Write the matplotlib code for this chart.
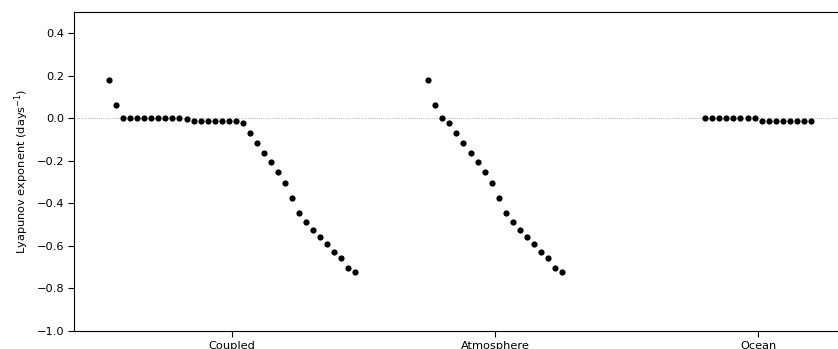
import numpy as np
import matplotlib
matplotlib.use("Agg")
import matplotlib.pyplot as plt

categories = ["Coupled", "Atmosphere", "Ocean"]

coupled = [0.179, 0.062, 0.0, 0.0, 0.0, 0.0, 0.0, 0.0, 0.0, 0.0, 0.0, -0.004,
           -0.012, -0.012, -0.012, -0.012, -0.012, -0.012, -0.012, -0.024,
           -0.071, -0.118, -0.165, -0.208, -0.254, -0.305, -0.377, -0.444,
           -0.489, -0.525, -0.558, -0.589, -0.631, -0.658, -0.702, -0.722]

atmosphere = [0.179, 0.062, 0.0, -0.021, -0.071, -0.118, -0.165, -0.208,
              -0.254, -0.305, -0.377, -0.444, -0.489, -0.525, -0.558, -0.589,
              -0.631, -0.658, -0.702, -0.722]

ocean = [0.0, 0.0, 0.0, 0.0, 0.0, 0.0, 0.0, 0.0,
         -0.012, -0.012, -0.012, -0.012, -0.012, -0.012, -0.012, -0.012]

series = [coupled, atmosphere, ocean]
yticks = [-1.0, -0.8, -0.6, -0.4, -0.2, 0.0, 0.2, 0.4]

plt.rcParams["font.family"] = ["DejaVu Sans"]
plt.rcParams["font.size"] = 8.2

W, H = 838, 349
fig = plt.figure(figsize=(W / 100, H / 100), dpi=100)
left, right, top, bottom = 74.3, 915.8, 11.7, 331.0
ax = fig.add_axes([left / W, 1 - bottom / H, (right - left) / W, (bottom - top) / H])

step = 1 / 37.5
for i, vals in enumerate(series):
    n = len(vals)
    xs = i + (np.arange(n) - (n - 1) / 2) * step
    ax.scatter(xs, vals, s=20, color="black", linewidths=0, zorder=3)

ax.axhline(0, color="#bbbbbb", lw=0.8, ls=(0, (1, 1)), zorder=1)
ax.set_xlim(-0.6, 2.6)
ax.set_ylim(-1.0, 0.5)
ax.set_xticks(range(len(categories)))
ax.set_xticklabels(categories)
ax.set_yticks(yticks)
ax.set_yticklabels([f"{v:.1f}".replace("-", "\u2212") for v in yticks])
ax.set_ylabel("Lyapunov exponent (days$^{-1}$)", labelpad=4)
ax.tick_params(length=4, width=0.8)

fig.savefig("out.png", dpi=100)
